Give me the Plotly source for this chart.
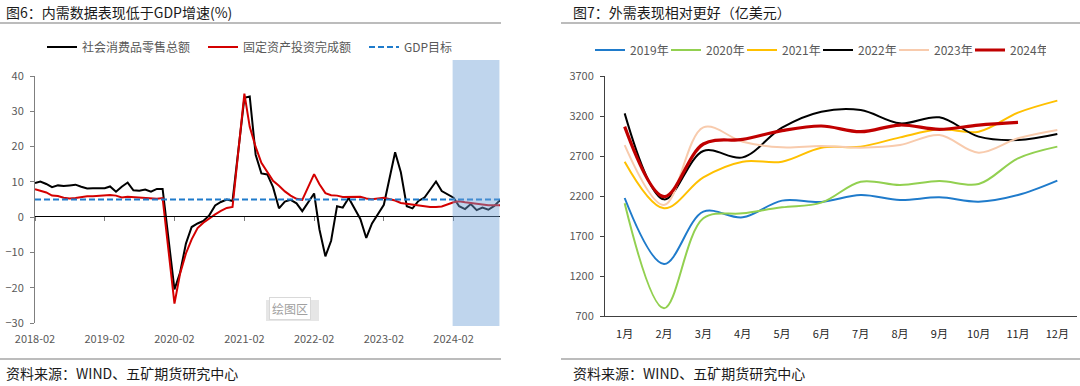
import plotly.graph_objects as go

W, H = 1080, 386
FONT = "Noto Sans CJK SC"


def px(x):
    return x / W


def py(y):
    return 1 - y / H


# ---------------- Left panel data (monthly YoY %, Jan merged into Feb) ----------------
left_title = "图6：内需数据表现低于GDP增速(%)"
retail_name = "社会消费品零售总额"
fai_name = "固定资产投资完成额"
gdp_name = "GDP目标"

retail_sales = [
    9.7, 10.1, 9.4, 8.5, 9.0, 8.8, 9.0, 9.2, 8.6, 8.1, 8.2,          # 2018
    8.2, 8.7, 7.2, 8.6, 9.8, 7.6, 7.5, 7.8, 7.2, 8.0, 8.0,           # 2019
    -20.5, -15.8, -7.5, -2.8, -1.8, -1.1, 0.5, 3.3, 4.3, 5.0, 4.6,   # 2020
    33.8, 34.2, 17.7, 12.4, 12.1, 8.5, 2.5, 4.4, 4.9, 3.9, 1.7,      # 2021
    6.7, -3.5, -11.1, -6.7, 3.1, 2.7, 5.4, 2.5, -0.5, -5.9, -1.8,    # 2022
    3.5, 10.6, 18.4, 12.7, 3.1, 2.5, 4.6, 5.5, 7.6, 10.1, 7.4,       # 2023
    5.5, 3.1, 2.3, 3.7, 2.0, 2.7, 2.1, 3.2, 4.8,                     # 2024
]
fixed_asset_inv = [
    7.9, 7.5, 7.0, 6.1, 6.0, 5.5, 5.3, 5.4, 5.7, 5.9, 5.9,           # 2018
    6.1, 6.3, 6.1, 5.6, 5.8, 5.7, 5.5, 5.4, 5.2, 5.2, 5.4,           # 2019
    -24.5, -16.1, -10.3, -6.3, -3.1, -1.6, -0.3, 0.8, 1.8, 2.6, 2.9, # 2020
    35.0, 25.6, 19.9, 15.4, 12.6, 10.3, 8.9, 7.3, 6.1, 5.2, 4.9,     # 2021
    12.2, 9.3, 6.8, 6.2, 6.1, 5.7, 5.8, 5.9, 5.8, 5.3, 5.1,          # 2022
    5.5, 5.1, 4.7, 4.0, 3.8, 3.4, 3.2, 3.1, 2.9, 2.9, 3.0,           # 2023
    4.2, 4.5, 4.2, 4.0, 3.9, 3.6, 3.4, 3.4, 3.4,                     # 2024
]
gdp_target = 5.0
left_tick_labels = ["2018-02", "2019-02", "2020-02", "2021-02", "2022-02", "2023-02", "2024-02"]
highlight_start = "2024-01-27"
highlight_end = "2024-09-28"

dates = []
for yr in range(2018, 2025):
    for m in range(2, 13):
        if yr == 2024 and m > 10:
            break
        dates.append(f"{yr}-{m:02d}-01")

# ---------------- Right panel data (exports, 100m USD) ----------------
right_title = "图7：外需表现相对更好（亿美元）"
months_cn = ["1月", "2月", "3月", "4月", "5月", "6月", "7月", "8月", "9月", "10月", "11月", "12月"]
exports_2019 = [2175, 1350, 2004, 1933, 2142, 2125, 2212, 2150, 2183, 2129, 2212, 2392]
exports_2020 = [2108, 796, 1921, 1983, 2058, 2117, 2379, 2337, 2387, 2350, 2671, 2817]
exports_2021 = [2629, 2046, 2433, 2629, 2629, 2804, 2817, 2933, 3033, 3004, 3242, 3392]
exports_2022 = [3233, 2158, 2763, 2683, 3054, 3254, 3275, 3108, 3183, 2942, 2900, 2975]
exports_2023 = [2837, 2088, 3058, 2879, 2808, 2825, 2804, 2837, 2962, 2742, 2921, 3025]
exports_2024 = [3067, 2192, 2850, 2908, 3017, 3075, 3004, 3087, 3033, 3087, 3121]
year_names = ["2019年", "2020年", "2021年", "2022年", "2023年", "2024年"]
year_colors = ["#1F7BCB", "#92D050", "#FFC000", "#000000", "#F8CBAD", "#C00000"]
year_widths = [2, 2, 2, 2, 2, 3.2]

source_text = "资料来源：WIND、五矿期货研究中心"

fig = go.Figure()

# Left traces
fig.add_trace(go.Scatter(x=dates, y=retail_sales, name=retail_name, mode="lines",
                         line=dict(color="#000000", width=2), legend="legend",
                         xaxis="x", yaxis="y"))
fig.add_trace(go.Scatter(x=dates, y=fixed_asset_inv, name=fai_name, mode="lines",
                         line=dict(color="#D40000", width=2), legend="legend",
                         xaxis="x", yaxis="y"))
fig.add_trace(go.Scatter(x=dates, y=[gdp_target] * len(dates), name=gdp_name, mode="lines",
                         line=dict(color="#1F7BCB", width=2, dash="6px,3px"), legend="legend",
                         xaxis="x3", yaxis="y"))

# Right traces
for name, vals, col, w in zip(year_names,
                              [exports_2019, exports_2020, exports_2021, exports_2022, exports_2023, exports_2024],
                              year_colors, year_widths):
    fig.add_trace(go.Scatter(x=months_cn[:len(vals)], y=vals, name=name, mode="lines",
                             line=dict(color=col, width=w, shape="spline", smoothing=1.0),
                             legend="legend2", xaxis="x2", yaxis="y2"))

left_dom_x = [px(35), px(500)]
left_dom_y = [py(323), py(76)]
right_dom_x = [px(605), px(1077)]
right_dom_y = [py(316), py(76)]

tickfont = dict(family=FONT, size=11, color="#595959")

fig.update_layout(
    template="none",
    width=W, height=H,
    margin=dict(l=0, r=0, t=0, b=0, autoexpand=False),
    paper_bgcolor="white", plot_bgcolor="white",
    font=dict(family=FONT, size=12, color="#595959"),
    showlegend=True,
    xaxis=dict(domain=left_dom_x, anchor="y", type="date", automargin=False,
               range=["2018-02-01", "2024-10-01"],
               tickvals=[d + "-01" for d in left_tick_labels], ticktext=left_tick_labels,
               showgrid=False, zeroline=False, showline=False, ticks="",
               tickfont=tickfont, ticklabelstandoff=8),
    xaxis3=dict(domain=left_dom_x, overlaying="x", anchor="free", automargin=False,
                position=py(216), type="date",
                range=["2018-02-01", "2024-10-01"],
                tickvals=[d + "-01" for d in left_tick_labels],
                showticklabels=False, showgrid=False, zeroline=False,
                showline=True, linecolor="#000000", linewidth=1,
                ticks="outside", ticklen=4, tickcolor="#7F7F7F", tickwidth=1),
    yaxis=dict(domain=left_dom_y, anchor="x", range=[-30, 40], dtick=10, automargin=False,
               showgrid=False, zeroline=False, showline=True, linecolor="#7F7F7F",
               linewidth=1, ticks="outside", ticklen=4, tickcolor="#7F7F7F",
               tickfont=tickfont, ticklabelstandoff=4),
    xaxis2=dict(domain=right_dom_x, anchor="y2", type="category", automargin=False,
                categoryorder="array", categoryarray=months_cn, range=[-0.5, 11.5],
                showgrid=False, zeroline=False, showline=True, linecolor="#404040",
                linewidth=1, ticks="",
                tickfont=dict(family=FONT, size=11, color="#262626"), ticklabelstandoff=8),
    yaxis2=dict(domain=right_dom_y, anchor="x2", range=[700, 3700], tick0=700, dtick=500,
                automargin=False,
                showgrid=False, zeroline=False, showline=True, linecolor="#404040",
                linewidth=1, ticks="outside", ticklen=4, tickcolor="#404040",
                tickfont=tickfont, ticklabelstandoff=4),
    legend=dict(orientation="h", x=px(42), y=py(47), xanchor="left", yanchor="middle",
                font=dict(family=FONT, size=12, color="#595959"),
                entrywidth=116, entrywidthmode="pixels", bgcolor="rgba(0,0,0,0)",
                itemclick=False, tracegroupgap=0),
    legend2=dict(orientation="h", x=px(590), y=py(50), xanchor="left", yanchor="middle",
                 font=dict(family=FONT, size=12, color="#595959"),
                 entrywidth=31, entrywidthmode="pixels", bgcolor="rgba(0,0,0,0)",
                 itemclick=False),
)

shapes = [
    # highlight period (semi-transparent, above lines)
    dict(type="rect", xref="x", yref="paper", x0=highlight_start, x1=highlight_end,
         y0=py(326), y1=py(60), fillcolor="rgba(110,160,214,0.44)", line=dict(width=0),
         layer="above"),
    # title rules
    dict(type="line", xref="paper", yref="paper", x0=0, x1=px(501), y0=py(23), y1=py(23),
         line=dict(color="#A6A6A6", width=1.5)),
    dict(type="line", xref="paper", yref="paper", x0=px(561), x1=1, y0=py(23), y1=py(23),
         line=dict(color="#A6A6A6", width=1.5)),
    # source rules
    dict(type="line", xref="paper", yref="paper", x0=0, x1=px(501), y0=py(359), y1=py(359),
         line=dict(color="#A6A6A6", width=1.5)),
    dict(type="line", xref="paper", yref="paper", x0=px(561), x1=1, y0=py(359), y1=py(359),
         line=dict(color="#A6A6A6", width=1.5)),
    # tooltip shadow
    dict(type="rect", xref="paper", yref="paper", x0=px(266), x1=px(319), y0=py(321), y1=py(300),
         fillcolor="#E6E6E6", line=dict(width=0), layer="above"),
]
fig.update_layout(shapes=shapes)

annotations = [
    dict(text=left_title, xref="paper", yref="paper", x=px(4), y=py(12), xanchor="left",
         yanchor="middle", showarrow=False, font=dict(family=FONT, size=14, color="#1A1A1A")),
    dict(text=right_title, xref="paper", yref="paper", x=px(571), y=py(12), xanchor="left",
         yanchor="middle", showarrow=False, font=dict(family=FONT, size=14, color="#1A1A1A")),
    dict(text=source_text, xref="paper", yref="paper", x=px(4), y=py(373), xanchor="left",
         yanchor="middle", showarrow=False, font=dict(family=FONT, size=14, color="#1A1A1A")),
    dict(text=source_text, xref="paper", yref="paper", x=px(571), y=py(373), xanchor="left",
         yanchor="middle", showarrow=False, font=dict(family=FONT, size=14, color="#1A1A1A")),
    dict(text="绘图区", xref="paper", yref="paper", x=px(290), y=py(308), xanchor="center",
         yanchor="middle", showarrow=False, font=dict(family=FONT, size=12, color="#A0A0A0"),
         bgcolor="white", bordercolor="#D9D9D9", borderwidth=1, borderpad=2),
]
fig.update_layout(annotations=annotations)

fig.write_html("out.html", config={"displayModeBar": False},
               post_script="document.body.style.margin='0';document.body.style.overflow='hidden';")
